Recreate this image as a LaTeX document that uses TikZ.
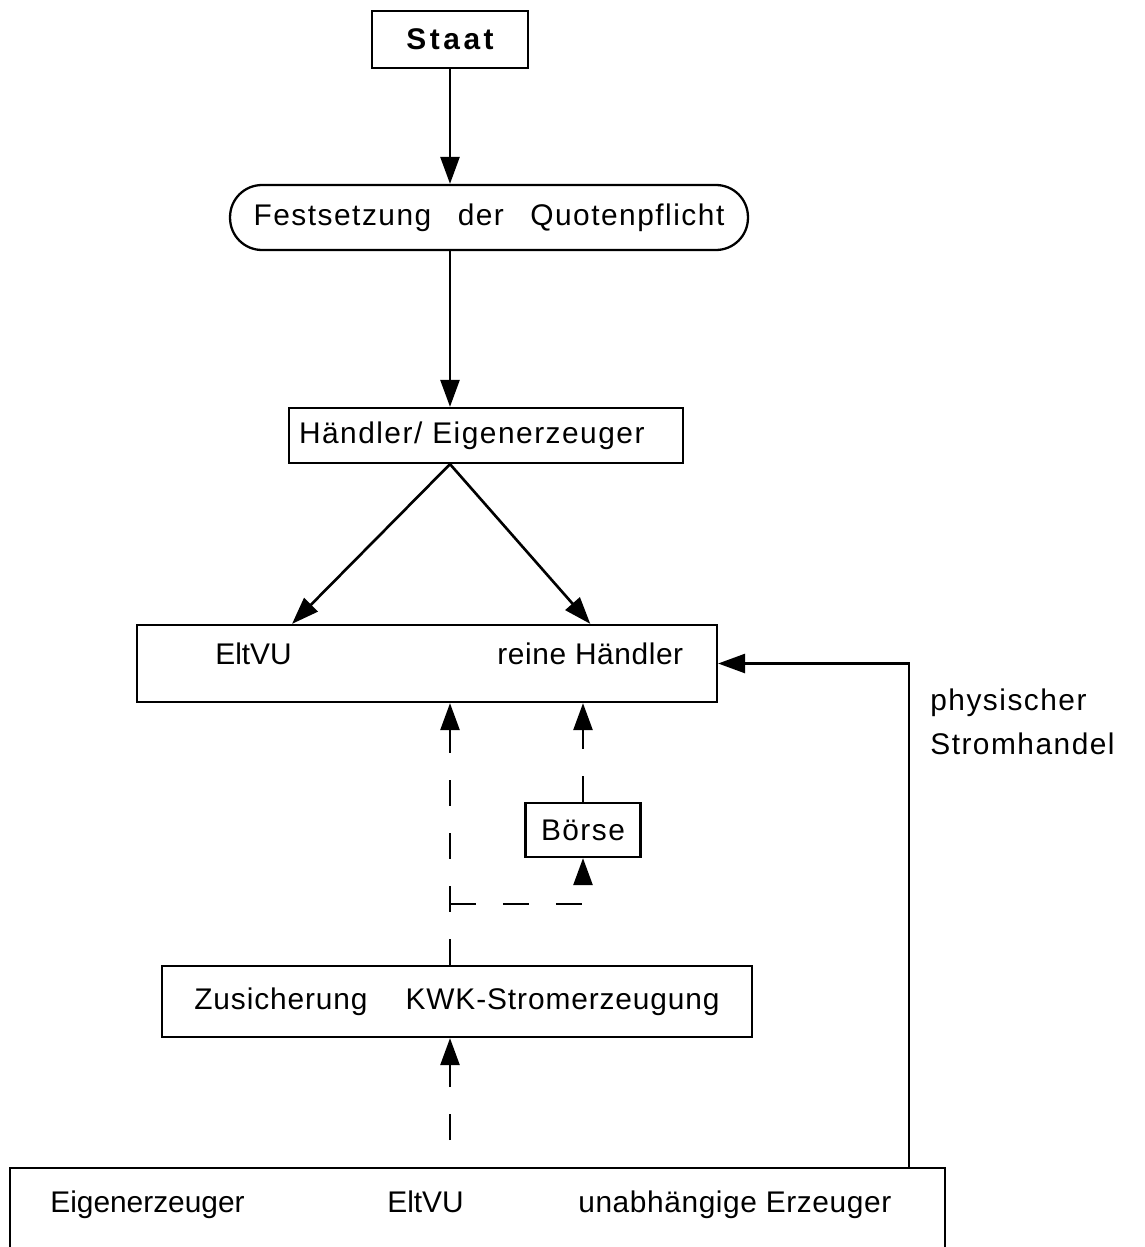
\documentclass[tikz,border=0pt]{standalone}
\usepackage{fontspec}
\setmainfont{Liberation Sans}
\usetikzlibrary{arrows.meta,calc,positioning}
\newcommand{\txtsize}{\fontsize{17}{25.6}\selectfont}
\tikzset{box/.style={draw,line width=1.3pt,inner sep=0pt},pill/.style={box,rounded corners=0.64cm},txt/.style={inner sep=0pt,anchor=base west},spaced/.style={font=\txtsize\addfontfeature{LetterSpace=5}},flow/.style={-{Triangle[length=0.54cm,width=0.38cm]},line width=1.5pt},dflow/.style={flow,dash pattern=on 0.52cm off 0.54cm}}
\begin{document}
\begin{tikzpicture}[x=0.02cm,y=-0.02cm,font=\txtsize]
      \useasboundingbox (0,0) rectangle (1144,1247);
      \node[box,minimum width=3.12cm,minimum height=1.14cm,font=\txtsize\bfseries\addfontfeature{LetterSpace=12}](staat) at (450,39.5){Staat};
      \node[pill,spaced,minimum width=10.36cm,minimum height=1.3cm](quote) at (489,217.5){Festsetzung\hspace{0.53cm}der\hspace{0.53cm}Quotenpflicht};
      \node[box,spaced,text width=7.48cm,align=left,inner xsep=0.2cm,minimum height=1.1cm](hand) at (486,435.5){Händler/ Eigenerzeuger};
      \node[box,minimum width=11.6cm,minimum height=1.54cm](trade) at (427,663.5){};
      \node[txt](eltvu) at (215,664){EltVU};
      \node[txt,font=\txtsize\addfontfeature{LetterSpace=2}](pure) at (497,664){reine Händler};
      \node[box,spaced,minimum width=2.3cm,minimum height=1.08cm](boerse) at (583,830){Börse};
      \node[box,font=\txtsize\addfontfeature{LetterSpace=3},minimum width=11.8cm,minimum height=1.42cm](kwk) at (457,1001.5){Zusicherung\hspace{0.76cm}KWK-Stromerzeugung};
      \node[box,anchor=north west,minimum width=18.7cm,minimum height=2cm](source) at (9,1167){};
      \node[txt](own) at (50,1212){Eigenerzeuger};
      \node[txt](utility) at (387,1212){EltVU};
      \node[txt,font=\txtsize\addfontfeature{LetterSpace=2}](indep) at (578,1212){unabhängige Erzeuger};
      \node[txt,spaced,anchor=north west,align=left](phys) at (930,688){physischer\\Stromhandel};
      \coordinate (bend) at (909,661);
      \draw[flow](staat)--(staat |- quote.north);
      \draw[flow](quote.south -| staat)--(staat |- hand.north);
      \draw[flow](hand.south -| staat)--(eltvu.east |- trade.north);
      \draw[flow](hand.south -| staat)--(pure |- trade.north);
      \draw[flow](source.north -| bend)|-(trade.east);
      \draw[dflow](kwk.north -| staat)--(trade.south -| staat);
      \draw[dflow]($(staat |- boerse.south)+(0,46)$)-|(boerse.south);
      \draw[dflow](boerse.north)--(trade.south -| boerse);
      \draw[dflow,dash phase=0.52cm](source.north -| staat)--(kwk.south -| staat);
    \end{tikzpicture}
\end{document}
